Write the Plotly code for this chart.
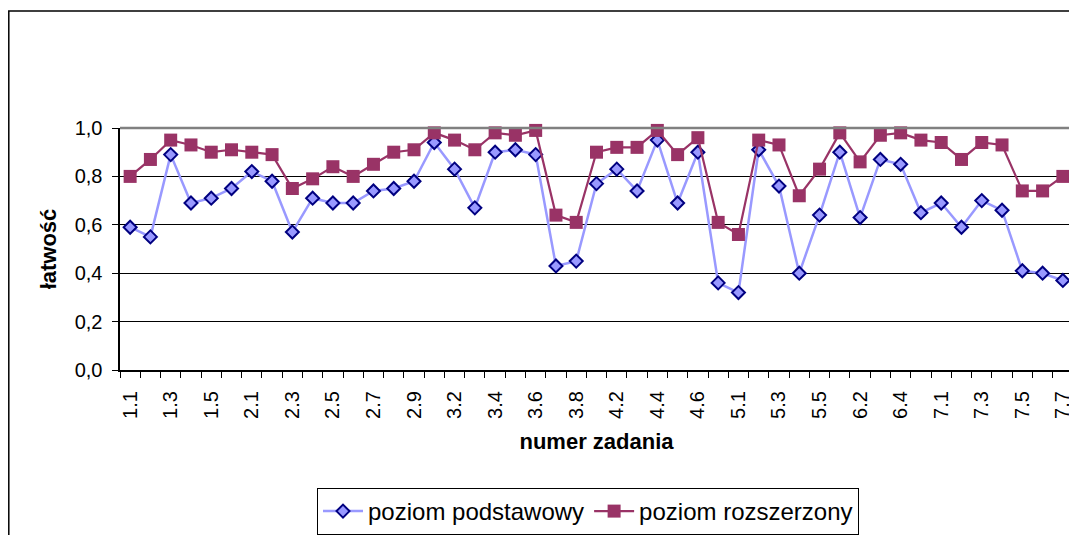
import plotly.graph_objects as go

categories = ["1.1", "1.2", "1.3", "1.4", "1.5", "1.6",
              "2.1", "2.2", "2.3", "2.4", "2.5", "2.6", "2.7", "2.8", "2.9",
              "3.1", "3.2", "3.3", "3.4", "3.5", "3.6", "3.7", "3.8",
              "4.1", "4.2", "4.3", "4.4", "4.5", "4.6", "4.7",
              "5.1", "5.2", "5.3", "5.4", "5.5",
              "6.1", "6.2", "6.3", "6.4", "6.5",
              "7.1", "7.2", "7.3", "7.4", "7.5", "7.6", "7.7"]

podstawowy = [0.59, 0.55, 0.89, 0.69, 0.71, 0.75,
              0.82, 0.78, 0.57, 0.71, 0.69, 0.69, 0.74, 0.75, 0.78,
              0.94, 0.83, 0.67, 0.90, 0.91, 0.89, 0.43, 0.45,
              0.77, 0.83, 0.74, 0.95, 0.69, 0.90, 0.36,
              0.32, 0.91, 0.76, 0.40, 0.64,
              0.90, 0.63, 0.87, 0.85, 0.65,
              0.69, 0.59, 0.70, 0.66, 0.41, 0.40, 0.37]

rozszerzony = [0.80, 0.87, 0.95, 0.93, 0.90, 0.91,
               0.90, 0.89, 0.75, 0.79, 0.84, 0.80, 0.85, 0.90, 0.91,
               0.98, 0.95, 0.91, 0.98, 0.97, 0.99, 0.64, 0.61,
               0.90, 0.92, 0.92, 0.99, 0.89, 0.96, 0.61,
               0.56, 0.95, 0.93, 0.72, 0.83,
               0.98, 0.86, 0.97, 0.98, 0.95,
               0.94, 0.87, 0.94, 0.93, 0.74, 0.74, 0.80]

series_names = ["poziom podstawowy", "poziom rozszerzony"]
y_ticks = [0.0, 0.2, 0.4, 0.6, 0.8, 1.0]
y_tick_labels = ["0,0", "0,2", "0,4", "0,6", "0,8", "1,0"]

FONT = "Liberation Sans, Arial, sans-serif"
NB = "\u00a0"

fig = go.Figure()
fig.add_trace(go.Scatter(
    x=categories, y=podstawowy, name=series_names[0], mode="lines+markers",
    line=dict(color="#9999FF", width=2.5),
    marker=dict(symbol="diamond", size=10, color="#9999FF",
                line=dict(color="#000080", width=2)),
    cliponaxis=False,
))
fig.add_trace(go.Scatter(
    x=categories, y=rozszerzony, name=series_names[1], mode="lines+markers",
    line=dict(color="#993366", width=2.2),
    marker=dict(symbol="square", size=13, color="#993366",
                line=dict(color="#993366", width=0)),
    cliponaxis=False,
))

# page offset of the figure (browser body margin)
OFF = 8
W, H = 1077 - OFF, 535 - OFF
L, T = 120 - OFF, 128 - OFF
PR, PB = 1073 - OFF, 370 - OFF
R, B = W - PR, H - PB
pw = PR - L
ph = PB - T


def px_x(x):
    return (x - OFF - L) / pw


def px_y(y):
    return (PB - (y - OFF)) / ph


fig.update_layout(
    width=W, height=H,
    margin=dict(l=L, r=R, t=T, b=B, pad=0, autoexpand=False),
    paper_bgcolor="white", plot_bgcolor="white",
    font=dict(family=FONT, size=20, color="black"),
    showlegend=True,
    legend=dict(
        orientation="h", x=px_x(588), xanchor="center",
        y=px_y(488), yanchor="top",
        bordercolor="black", borderwidth=1, bgcolor="white",
        font=dict(family=FONT, size=24, color="black"),
        itemwidth=40, tracegroupgap=0,
    ),
    xaxis=dict(
        type="category", categoryorder="array", categoryarray=categories,
        range=[-0.5, len(categories) - 0.5], autorange=False,
        tickson="boundaries", ticks="outside", ticklen=6, tickcolor="black",
        tickwidth=1, dtick=1, ticklabelstep=2, tickangle=-90,
        labelalias={c: c + NB + NB for c in categories},
        tickfont=dict(family=FONT, size=20),
        showline=True, linecolor="black", linewidth=2,
        showgrid=False, zeroline=False,
        title=dict(text="<b>numer zadania</b>", font=dict(family=FONT, size=22), standoff=16),
        automargin=False,
    ),
    yaxis=dict(
        range=[0, 1], autorange=False, tickmode="array",
        tickvals=y_ticks, ticktext=[t + NB for t in y_tick_labels],
        ticks="outside", ticklen=6, tickcolor="black",
        tickfont=dict(family=FONT, size=20),
        showline=True, linecolor="black", linewidth=2,
        showgrid=True, gridcolor="black", gridwidth=1, zeroline=False,
        title=dict(text="<b>łatwość</b>", font=dict(family=FONT, size=22), standoff=12),
        automargin=False,
    ),
    shapes=[
        # plot area border (gray, top and right)
        dict(type="line", xref="paper", yref="paper", x0=0, x1=1, y0=1, y1=1,
             line=dict(color="#808080", width=2.5), layer="above"),
        dict(type="line", xref="paper", yref="paper", x0=1, x1=1, y0=0, y1=1,
             line=dict(color="#808080", width=2.5), layer="above"),
        # outer chart border
        dict(type="rect", xref="paper", yref="paper",
             x0=px_x(8.8), x1=px_x(1077 + 30),
             y0=px_y(535 + 30), y1=px_y(11),
             line=dict(color="black", width=1.5), fillcolor="rgba(0,0,0,0)", layer="below"),
    ],
)

fig.write_html("out.html")
